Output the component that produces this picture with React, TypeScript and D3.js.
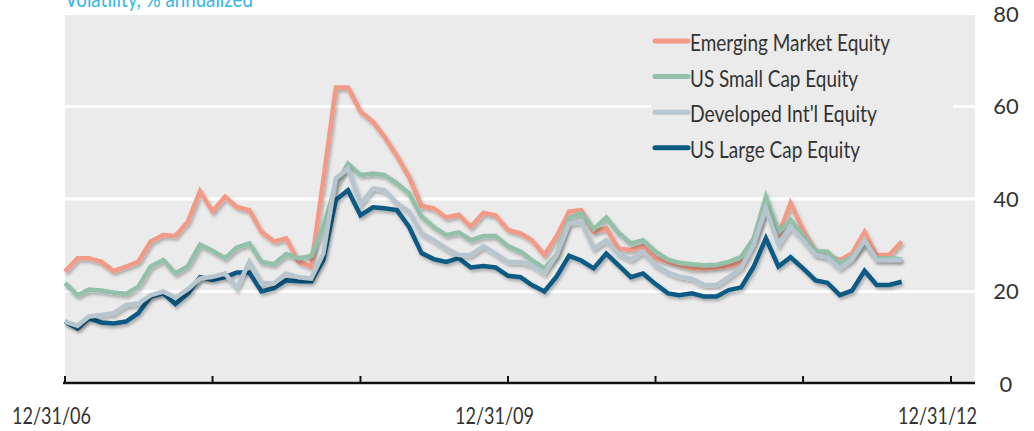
import { useEffect, useRef } from "react";
import * as d3 from "d3";

// monthly readings, Dec 2006 .. Aug 2012
const emerging = [
  24.3, 27.2, 27.2, 26.4, 24.4, 25.4, 26.4, 30.8, 32.2, 32.0, 35.1, 41.7, 37.3,
  40.5, 38.3, 37.6, 32.9, 30.8, 31.5, 26.4, 25.4, 44.0, 64.1, 64.1, 58.9, 56.7,
  53.5, 49.3, 44.8, 38.5, 38.0, 36.0, 36.6, 34.0, 37.0, 36.5, 33.3, 32.6, 31.1,
  27.9, 31.9, 37.3, 37.6, 32.9, 33.7, 29.3, 29.0, 29.8, 27.2, 26.4, 25.7, 25.0,
  25.0, 25.2, 25.5, 26.3, 31.1, 38.3, 32.2, 39.1, 33.3, 28.6, 27.9, 26.8, 28.2,
  32.9, 27.9, 27.9, 30.8,
];
const smallCap = [
  21.8, 19.2, 20.4, 20.2, 19.8, 19.5, 21.0, 25.4, 26.8, 23.9, 25.5, 30.1, 28.8,
  27.2, 29.5, 30.4, 26.4, 25.9, 28.1, 27.2, 27.7, 34.0, 43.0, 47.6, 45.2, 45.5,
  45.2, 43.4, 41.2, 36.2, 34.0, 32.2, 32.8, 31.1, 32.0, 32.0, 29.8, 28.6, 26.8,
  25.0, 27.9, 35.8, 36.9, 33.5, 36.0, 32.7, 30.4, 31.1, 28.6, 26.9, 26.2, 25.9,
  25.7, 25.8, 26.4, 27.5, 31.5, 40.5, 32.9, 35.5, 32.2, 28.8, 28.6, 26.1, 27.5,
  30.4, 27.2, 27.2, 27.0,
];
const developed = [
  13.5, 12.6, 14.6, 14.9, 15.3, 17.1, 17.4, 19.2, 20.0, 18.7, 20.5, 22.8, 23.2,
  23.9, 20.7, 26.4, 21.8, 21.8, 23.9, 23.1, 22.8, 28.2, 44.5, 46.6, 39.0, 42.3,
  41.9, 39.1, 37.3, 32.6, 31.1, 29.3, 27.9, 27.9, 29.8, 28.2, 26.4, 26.4, 25.7,
  23.9, 27.9, 34.7, 35.1, 29.3, 31.1, 28.2, 26.9, 28.6, 25.7, 24.1, 23.2, 22.8,
  21.4, 21.4, 23.1, 25.2, 30.1, 38.0, 30.1, 34.0, 31.1, 27.9, 27.4, 25.0, 26.9,
  31.1, 26.8, 26.8, 26.8,
];
const largeCap = [
  13.5, 12.0, 14.2, 13.3, 13.1, 13.5, 15.3, 18.9, 19.6, 17.3, 19.6, 23.1, 22.5,
  23.1, 24.1, 24.1, 20.0, 20.7, 22.4, 22.2, 22.2, 26.8, 39.8, 41.9, 36.5, 38.2,
  38.0, 37.6, 34.0, 28.3, 27.0, 26.4, 27.2, 25.2, 25.5, 25.2, 23.4, 23.1, 21.4,
  20.0, 23.2, 27.7, 26.7, 25.0, 28.2, 25.7, 23.1, 23.9, 21.6, 19.6, 19.2, 19.6,
  18.9, 18.9, 20.3, 20.9, 25.4, 31.5, 25.4, 27.4, 25.0, 22.4, 21.9, 19.2, 20.2,
  24.5, 21.4, 21.4, 22.1,
];

const seriesNames = [
  "Emerging Market Equity",
  "US Small Cap Equity",
  "Developed Int'l Equity",
  "US Large Cap Equity",
];
const seriesColors = ["#f29a86", "#93c0a8", "#b7c6ce", "#0b5a84"];
const seriesValues = [emerging, smallCap, developed, largeCap];
// drawing order: last one ends up on top
const drawOrder = [0, 1, 3, 2];

const yTicks = [0, 20, 40, 60, 80];
const gridValues = [20, 40, 60];
const xLabels = ["12/31/06", "12/31/09", "12/31/12"];
const title = "Volatility, % annualized";

const legendWidths = [200, 168, 187, 170];
const FONT = "Lato, 'DejaVu Sans Condensed', sans-serif";

export default function App() {
  const ref = useRef<SVGSVGElement>(null);

  useEffect(() => {
    const svg = d3.select(ref.current);
    svg.selectAll("*").remove();

    const width = 1034;
    const height = 431;
    const left = 65;
    const right = 975;
    const top = 15;
    const bottom = 383;

    const start = new Date(2006, 11, 31);
    const end = new Date(2012, 11, 31);
    const dates = emerging.map((_, i) => new Date(2007, i, 0));

    const x = d3.scaleTime().domain([start, end]).range([left, 951]);
    const y = d3.scaleLinear().domain([0, 80]).range([bottom + 1, top - 1]);

    svg.attr("width", width).attr("height", height);

    const defs = svg.append("defs");
    const f = defs
      .append("filter")
      .attr("id", "shadow")
      .attr("x", "-10%")
      .attr("y", "-10%")
      .attr("width", "120%")
      .attr("height", "130%");
    f.append("feDropShadow")
      .attr("dx", 1.5)
      .attr("dy", 2.5)
      .attr("stdDeviation", 1.5)
      .attr("flood-color", "#000")
      .attr("flood-opacity", 0.28);

    // background
    svg
      .append("rect")
      .attr("x", left)
      .attr("y", top)
      .attr("width", right - left)
      .attr("height", bottom - top)
      .attr("fill", "#ebebeb");

    svg
      .selectAll(".grid")
      .data(gridValues)
      .enter()
      .append("line")
      .attr("x1", left)
      .attr("x2", right)
      .attr("y1", (d) => y(d))
      .attr("y2", (d) => y(d))
      .attr("stroke", "#fff")
      .attr("stroke-width", 3);

    // title (cropped at the top edge, as in the original)
    svg
      .append("text")
      .attr("x", left)
      .attr("y", 7)
      .attr("fill", "#36b5e8")
      .attr("textLength", 188)
      .attr("lengthAdjust", "spacingAndGlyphs")
      .style("font-family", FONT)
      .style("font-size", "23px")
      .text(title);

    // y labels on the right
    svg
      .selectAll(".ylab")
      .data(yTicks)
      .enter()
      .append("text")
      .attr("x", 1006)
      .attr("y", (d) => y(d))
      .attr("dy", "0.36em")
      .attr("text-anchor", "middle")
      .attr("fill", "#333")
      .style("font-family", FONT)
      .style("font-size", "22px")
      .text((d) => d);

    // lines
    const line = d3
      .line<number>()
      .x((_, i) => x(dates[i]))
      .y((d) => y(d));

    drawOrder.forEach((k) => {
      svg
        .append("path")
        .datum(seriesValues[k])
        .attr("d", line)
        .attr("fill", "none")
        .attr("stroke", seriesColors[k])
        .attr("stroke-width", 4.5)
        .attr("stroke-linejoin", "miter")
        .attr("filter", "url(#shadow)");
    });

    // x axis
    const tickDates = d3.range(0, 7).map((k) => new Date(2006 + k, 11, 31));
    svg
      .append("line")
      .attr("x1", 63)
      .attr("x2", right)
      .attr("y1", bottom)
      .attr("y2", bottom)
      .attr("stroke", "#111")
      .attr("stroke-width", 2.5);
    svg
      .selectAll(".tick")
      .data(tickDates)
      .enter()
      .append("line")
      .attr("x1", (d) => x(d))
      .attr("x2", (d) => x(d))
      .attr("y1", bottom)
      .attr("y2", bottom - 7)
      .attr("stroke", "#111")
      .attr("stroke-width", 2);

    const labelDates = [start, new Date(2009, 11, 31), end];
    svg
      .selectAll(".xlab")
      .data(labelDates)
      .enter()
      .append("text")
      .attr("x", (d) => x(d) - 53)
      .attr("y", 424)
      .attr("fill", "#333")
      .attr("textLength", 79)
      .attr("lengthAdjust", "spacingAndGlyphs")
      .style("font-family", FONT)
      .style("font-size", "23px")
      .text((_, i) => xLabels[i]);

    // legend
    const lg = svg.append("g");
    lg.append("rect")
      .attr("x", 651)
      .attr("y", 25)
      .attr("width", 302)
      .attr("height", 142)
      .attr("fill", "#ebebeb");
    seriesNames.forEach((name, i) => {
      const cy = 41 + i * 35.6;
      lg.append("line")
        .attr("x1", 655)
        .attr("x2", 688)
        .attr("y1", cy)
        .attr("y2", cy)
        .attr("stroke", seriesColors[i])
        .attr("stroke-width", 5)
        .attr("stroke-linecap", "round");
      lg.append("text")
        .attr("x", 690)
        .attr("y", cy + 2)
        .attr("dy", "0.35em")
        .attr("fill", "#333")
        .attr("textLength", legendWidths[i])
        .attr("lengthAdjust", "spacingAndGlyphs")
        .style("font-family", FONT)
        .style("font-size", "23px")
        .text(name);
    });
  }, []);

  return <svg ref={ref} style={{ display: "block", position: "absolute", left: 0, top: 0 }} />;
}
